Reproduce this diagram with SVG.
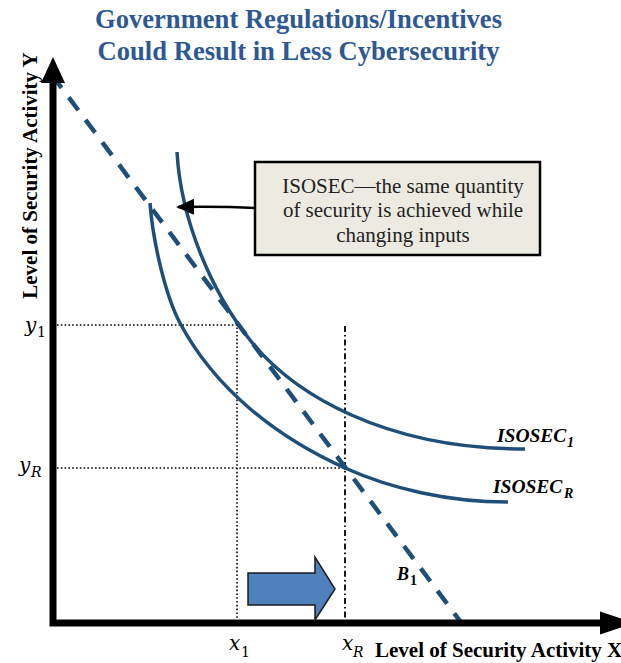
<svg xmlns="http://www.w3.org/2000/svg" width="621" height="663" viewBox="0 0 621 663">
  <style>
    .title { font-family: "Liberation Serif", "Times New Roman", serif; font-weight: bold; font-size: 26.6px; fill: #2E5894; }
    .axislabel { font-family: "Liberation Serif", "Times New Roman", serif; font-weight: bold; font-size: 21px; fill: #000; }
    .math { font-family: "DejaVu Serif", "Liberation Serif", serif; font-style: italic; font-size: 20px; fill: #000; }
    .sub { font-family: "DejaVu Serif", "Liberation Serif", serif; font-size: 14px; fill: #000; }
    .subit { font-family: "DejaVu Serif", "Liberation Serif", serif; font-style: italic; font-size: 14px; fill: #000; }
    .curve { fill: none; stroke: #1F4E79; stroke-width: 3.5; stroke-linecap: butt; }
    .budget { fill: none; stroke: #1F4E79; stroke-width: 4.5; stroke-dasharray: 16 12; }
    .dotted { fill: none; stroke: #000; stroke-width: 1.6; stroke-dasharray: 1.6 2.2; }
    .dashdot { fill: none; stroke: #000; stroke-width: 1.8; stroke-dasharray: 6 3 1.6 3; }
    .curvelabel { font-family: "Liberation Serif", "Times New Roman", serif; font-weight: bold; font-style: italic; font-size: 19.5px; fill: #000; }
    .curvesub { font-family: "Liberation Serif", "Times New Roman", serif; font-weight: bold; font-style: italic; font-size: 14px; fill: #000; }
    .note { font-family: "Liberation Serif", "Times New Roman", serif; font-size: 21px; fill: #222; }
  </style>
  <defs>
    <marker id="arrowhead" viewBox="0 0 18 16" refX="16" refY="8" markerWidth="18" markerHeight="16" markerUnits="userSpaceOnUse" orient="auto">
      <path d="M0,0 L18,8 L0,16 z" fill="#000"/>
    </marker>
  </defs>

  <rect width="621" height="663" fill="#fff"/>

  <!-- title -->
  <g id="title">
    <text class="title" x="298.5" y="28" text-anchor="middle">Government Regulations/Incentives</text>
    <text class="title" x="298.5" y="60" text-anchor="middle">Could Result in Less Cybersecurity</text>
  </g>

  <!-- reference lines for x1, xR, y1, yR -->
  <g id="guides">
    <path class="dotted" d="M57,325 H237 V620"/>
    <path class="dotted" d="M57,468 H345"/>
    <path class="dashdot" d="M345,326 V620"/>
  </g>

  <!-- budget line B1 -->
  <g id="budget-line">
    <path class="budget" d="M52,75 L463,625"/>
    <text class="curvelabel" x="397" y="580" style="font-size:18px">B</text>
    <text class="curvesub" x="410" y="585" style="font-style:normal">1</text>
  </g>

  <!-- isosecurity curves -->
  <g id="isosec-1">
    <path class="curve" d="M177,152 C181,222 212.5,293 250,340 C293.75,394.6 385,449 525,449"/>
    <text class="curvelabel" x="497" y="442">ISOSEC</text>
    <text class="curvesub" x="567" y="447">1</text>
  </g>
  <g id="isosec-r">
    <path class="curve" d="M150,203 C153,243 165.9,296.6 180,323 C215,389 276.75,437.25 345,468 C390.5,488.5 448,502 508,502"/>
    <text class="curvelabel" x="493" y="493">ISOSEC</text>
    <text class="curvesub" x="564" y="498">R</text>
  </g>

  <!-- axes -->
  <g id="axes">
    <path d="M53,82 V623 H602" fill="none" stroke="#000" stroke-width="7" stroke-linejoin="miter"/>
    <polygon points="41,83 53,57 65,83" fill="#000"/>
    <polygon points="600,611.5 634,623 600,634.5" fill="#000"/>
    <text class="axislabel" transform="translate(37,175.5) rotate(-90)" text-anchor="middle">Level of Security Activity Y</text>
    <text class="axislabel" x="375" y="657">Level of Security Activity X</text>
  </g>

  <!-- axis tick labels -->
  <g id="tick-labels">
    <text class="math" x="25" y="332">y</text>
    <text class="sub" x="37" y="337">1</text>
    <text class="math" x="19" y="472">y</text>
    <text class="subit" x="31" y="477">R</text>
    <text class="math" x="229" y="650">x</text>
    <text class="sub" x="241" y="657">1</text>
    <text class="math" x="342" y="650">x</text>
    <text class="subit" x="353" y="657">R</text>
  </g>

  <!-- shift arrow -->
  <g id="shift-arrow">
    <polygon points="248,573 315,573 315,557 335,589 315,620 315,605 248,605" fill="#4F81BD" stroke="#1a1a1a" stroke-width="1.5" stroke-linejoin="miter"/>
  </g>

  <!-- callout -->
  <g id="callout">
    <rect x="255" y="162" width="285" height="93" fill="#EDEBE1" stroke="#000" stroke-width="2.5"/>
    <text class="note" x="403" y="193" text-anchor="middle">ISOSEC—the same quantity</text>
    <text class="note" x="403" y="217" text-anchor="middle">of security is achieved while</text>
    <text class="note" x="403" y="242" text-anchor="middle">changing inputs</text>
  </g>

  <g id="connectors">
    <path d="M255,208 C235,207 212,206.5 178,207" fill="none" stroke="#000" stroke-width="2.5" marker-end="url(#arrowhead)"/>
  </g>
</svg>
